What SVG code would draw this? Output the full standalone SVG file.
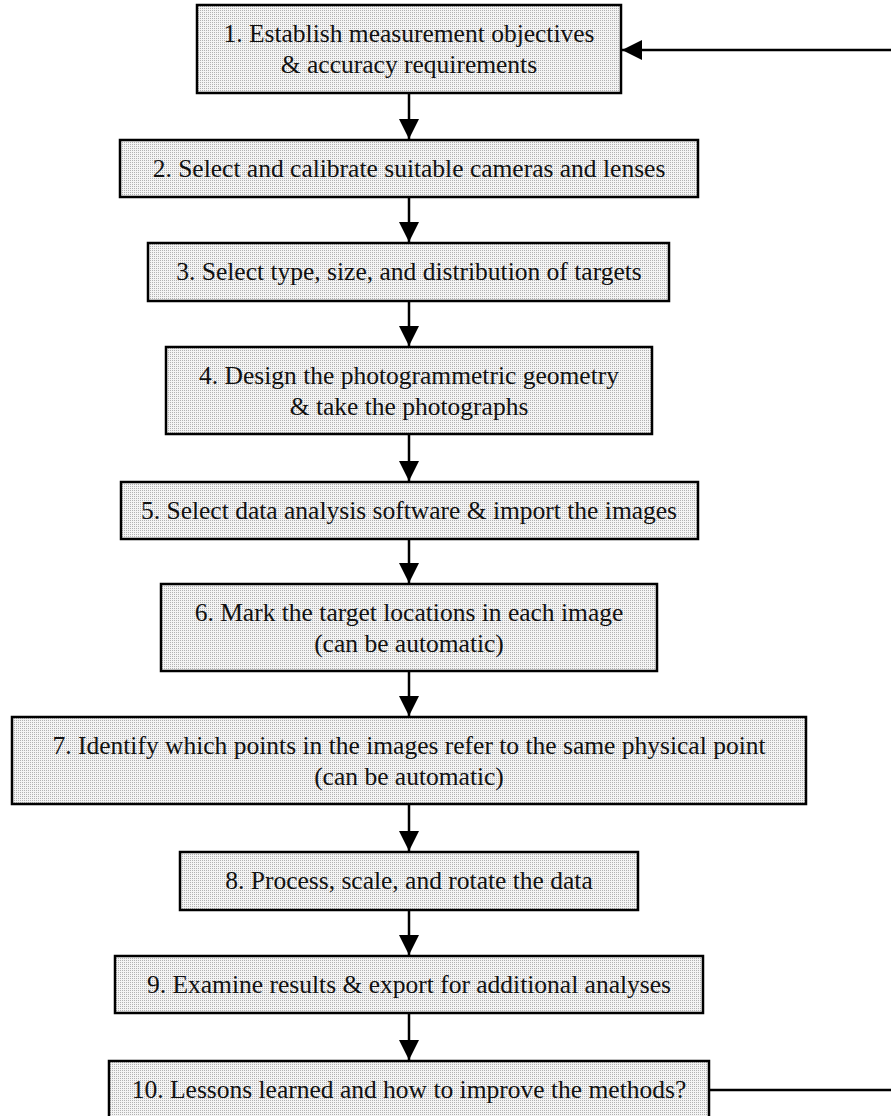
<svg xmlns="http://www.w3.org/2000/svg" width="891" height="1116" viewBox="0 0 891 1116">
<style>
.box{fill:url(#dots);stroke:#000;stroke-width:2.5}
.t{font-family:"Liberation Serif","Times New Roman",serif;font-size:25.5px;fill:#111;text-anchor:middle}
.c{stroke:#000;stroke-width:2.5;fill:none}
</style>
<defs>
<pattern id="dots" width="2" height="2" patternUnits="userSpaceOnUse">
<rect width="2" height="2" fill="#f4f4f4"/>
<rect width="1" height="1" fill="#b2b2b2"/>
</pattern>
<marker id="ah" markerUnits="userSpaceOnUse" markerWidth="22" markerHeight="22" refX="20" refY="10" orient="auto">
<path d="M0,0 L20,10 L0,20 Z" fill="#000"/>
</marker>
</defs>
<rect width="891" height="1116" fill="#fff"/>
<g id="connectors">
<line class="c" x1="409" y1="93" x2="409" y2="139" marker-end="url(#ah)"/>
<line class="c" x1="409" y1="197" x2="409" y2="242" marker-end="url(#ah)"/>
<line class="c" x1="409" y1="301" x2="409" y2="346" marker-end="url(#ah)"/>
<line class="c" x1="409" y1="434" x2="409" y2="481" marker-end="url(#ah)"/>
<line class="c" x1="409" y1="539" x2="409" y2="583" marker-end="url(#ah)"/>
<line class="c" x1="409" y1="671" x2="409" y2="716" marker-end="url(#ah)"/>
<line class="c" x1="409" y1="804" x2="409" y2="851" marker-end="url(#ah)"/>
<line class="c" x1="409" y1="910" x2="409" y2="955" marker-end="url(#ah)"/>
<line class="c" x1="409" y1="1013" x2="409" y2="1060" marker-end="url(#ah)"/>
<line class="c" x1="709" y1="1090" x2="891" y2="1090"/>
<line class="c" x1="891" y1="50" x2="622" y2="50" marker-end="url(#ah)"/>
</g>
<g id="n1"><rect class="box" x="197" y="5" width="424" height="88"/>
<text class="t" x="409" y="42">1. Establish measurement objectives</text>
<text class="t" x="409" y="73">&amp; accuracy requirements</text></g>
<g id="n2"><rect class="box" x="120" y="140" width="578" height="57"/>
<text class="t" x="409" y="177">2. Select and calibrate suitable cameras and lenses</text></g>
<g id="n3"><rect class="box" x="148" y="243" width="521" height="58"/>
<text class="t" x="409" y="280">3. Select type, size, and distribution of targets</text></g>
<g id="n4"><rect class="box" x="166" y="347" width="486" height="87"/>
<text class="t" x="409" y="384">4. Design the photogrammetric geometry</text>
<text class="t" x="409" y="415">&amp; take the photographs</text></g>
<g id="n5"><rect class="box" x="121" y="482" width="577" height="57"/>
<text class="t" x="409" y="519">5. Select data analysis software &amp; import the images</text></g>
<g id="n6"><rect class="box" x="161" y="584" width="496" height="87"/>
<text class="t" x="409" y="621">6. Mark the target locations in each image</text>
<text class="t" x="409" y="652">(can be automatic)</text></g>
<g id="n7"><rect class="box" x="12" y="717" width="794" height="87"/>
<text class="t" x="409" y="754">7. Identify which points in the images refer to the same physical point</text>
<text class="t" x="409" y="785">(can be automatic)</text></g>
<g id="n8"><rect class="box" x="180" y="852" width="458" height="58"/>
<text class="t" x="409" y="889">8. Process, scale, and rotate the data</text></g>
<g id="n9"><rect class="box" x="115" y="956" width="588" height="57"/>
<text class="t" x="409" y="993">9. Examine results &amp; export for additional analyses</text></g>
<g id="n10"><rect class="box" x="109" y="1061" width="600" height="57"/>
<text class="t" x="409" y="1098">10. Lessons learned and how to improve the methods?</text></g>
</svg>
